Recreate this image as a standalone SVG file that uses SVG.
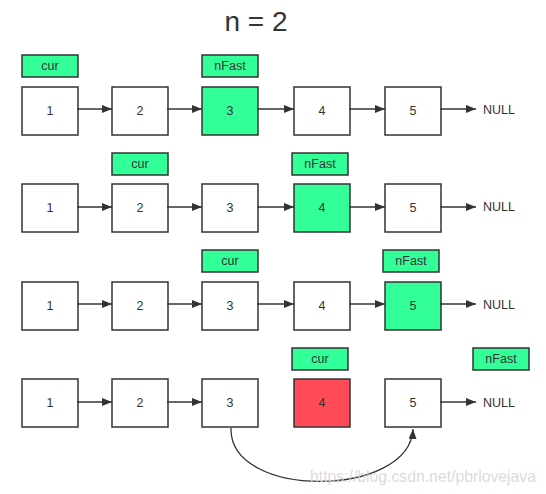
<svg xmlns="http://www.w3.org/2000/svg" width="546" height="494" viewBox="0 0 546 494">
<style>
.box{fill:#fff;stroke:#333;stroke-width:1.5}
.hl{fill:#33ff99}
.red{fill:#ff4b57}
.lab{fill:#33ff99;stroke:#333;stroke-width:1.5}
.t{font-family:"Liberation Sans",Arial,sans-serif;font-size:12.5px;fill:#333;text-anchor:middle;dominant-baseline:central}
.null{font-family:"Liberation Sans",Arial,sans-serif;font-size:12.5px;fill:#333;dominant-baseline:central}
.title{font-family:"Liberation Sans",Arial,sans-serif;font-size:28px;fill:#333;text-anchor:middle}
.ln{stroke:#333;stroke-width:1.3;fill:none}
.wm{font-family:"Liberation Sans",Arial,sans-serif;font-size:16.5px;fill:#d4d4d4;fill-opacity:0.85}
</style>
<defs>
<marker id="ah" viewBox="0 0 10 8" refX="10" refY="4" markerWidth="10" markerHeight="8" markerUnits="userSpaceOnUse" orient="auto">
<path d="M0,0 L10,4 L0,8 Z" fill="#333"/>
</marker>
</defs>
<rect width="546" height="494" fill="#fff"/>
<text class="title" x="256" y="31">n = 2</text>

<!-- Row 1 -->
<g id="r1">
<g id="r1-cur"><rect class="lab" x="22" y="55" width="56" height="22"/><text class="t" x="50" y="66">cur</text></g>
<g id="r1-nfast"><rect class="lab" x="202" y="55" width="56" height="22"/><text class="t" x="230" y="66">nFast</text></g>
<g id="r1-n1"><rect class="box" x="22" y="87" width="56" height="48"/><text class="t" x="50" y="111">1</text></g>
<g id="r1-n2"><rect class="box" x="112" y="87" width="56" height="48"/><text class="t" x="140" y="111">2</text></g>
<g id="r1-n3"><rect class="box hl" x="202" y="87" width="56" height="48"/><text class="t" x="230" y="111">3</text></g>
<g id="r1-n4"><rect class="box" x="294" y="87" width="56" height="48"/><text class="t" x="322" y="111">4</text></g>
<g id="r1-n5"><rect class="box" x="385" y="87" width="56" height="48"/><text class="t" x="413" y="111">5</text></g>
<text class="null" x="483" y="110">NULL</text>
</g>

<!-- Row 2 -->
<g id="r2">
<g id="r2-cur"><rect class="lab" x="112" y="153" width="56" height="22"/><text class="t" x="140" y="164">cur</text></g>
<g id="r2-nfast"><rect class="lab" x="292" y="153" width="56" height="22"/><text class="t" x="320" y="164">nFast</text></g>
<g id="r2-n1"><rect class="box" x="22" y="184" width="56" height="48"/><text class="t" x="50" y="208">1</text></g>
<g id="r2-n2"><rect class="box" x="112" y="184" width="56" height="48"/><text class="t" x="140" y="208">2</text></g>
<g id="r2-n3"><rect class="box" x="202" y="184" width="56" height="48"/><text class="t" x="230" y="208">3</text></g>
<g id="r2-n4"><rect class="box hl" x="294" y="184" width="56" height="48"/><text class="t" x="322" y="208">4</text></g>
<g id="r2-n5"><rect class="box" x="385" y="184" width="56" height="48"/><text class="t" x="413" y="208">5</text></g>
<text class="null" x="483" y="207">NULL</text>
</g>

<!-- Row 3 -->
<g id="r3">
<g id="r3-cur"><rect class="lab" x="202" y="250" width="56" height="22"/><text class="t" x="230" y="261">cur</text></g>
<g id="r3-nfast"><rect class="lab" x="383" y="250" width="56" height="22"/><text class="t" x="411" y="261">nFast</text></g>
<g id="r3-n1"><rect class="box" x="22" y="282" width="56" height="48"/><text class="t" x="50" y="306">1</text></g>
<g id="r3-n2"><rect class="box" x="112" y="282" width="56" height="48"/><text class="t" x="140" y="306">2</text></g>
<g id="r3-n3"><rect class="box" x="202" y="282" width="56" height="48"/><text class="t" x="230" y="306">3</text></g>
<g id="r3-n4"><rect class="box" x="294" y="282" width="56" height="48"/><text class="t" x="322" y="306">4</text></g>
<g id="r3-n5"><rect class="box hl" x="385" y="282" width="56" height="48"/><text class="t" x="413" y="306">5</text></g>
<text class="null" x="483" y="305">NULL</text>
</g>

<!-- Row 4 -->
<g id="r4">
<g id="r4-cur"><rect class="lab" x="292" y="348" width="56" height="22"/><text class="t" x="320" y="359">cur</text></g>
<g id="r4-nfast"><rect class="lab" x="473" y="348" width="56" height="22"/><text class="t" x="501" y="359">nFast</text></g>
<g id="r4-n1"><rect class="box" x="22" y="379" width="56" height="48"/><text class="t" x="50" y="403">1</text></g>
<g id="r4-n2"><rect class="box" x="112" y="379" width="56" height="48"/><text class="t" x="140" y="403">2</text></g>
<g id="r4-n3"><rect class="box" x="202" y="379" width="56" height="48"/><text class="t" x="230" y="403">3</text></g>
<g id="r4-n4"><rect class="box red" x="294" y="379" width="56" height="48"/><text class="t" x="322" y="403">4</text></g>
<g id="r4-n5"><rect class="box" x="385" y="379" width="56" height="48"/><text class="t" x="413" y="403">5</text></g>
<text class="null" x="483" y="403">NULL</text>
</g>

<g id="connectors">
<!-- row 1 -->
<line class="ln" x1="77" y1="109" x2="112" y2="109" marker-end="url(#ah)"/>
<line class="ln" x1="167" y1="109" x2="202" y2="109" marker-end="url(#ah)"/>
<line class="ln" x1="257" y1="109" x2="294" y2="109" marker-end="url(#ah)"/>
<line class="ln" x1="349" y1="109" x2="385" y2="109" marker-end="url(#ah)"/>
<line class="ln" x1="440" y1="109" x2="476" y2="109" marker-end="url(#ah)"/>
<!-- row 2 -->
<line class="ln" x1="77" y1="207" x2="112" y2="207" marker-end="url(#ah)"/>
<line class="ln" x1="167" y1="207" x2="202" y2="207" marker-end="url(#ah)"/>
<line class="ln" x1="257" y1="207" x2="294" y2="207" marker-end="url(#ah)"/>
<line class="ln" x1="349" y1="207" x2="385" y2="207" marker-end="url(#ah)"/>
<line class="ln" x1="440" y1="207" x2="476" y2="207" marker-end="url(#ah)"/>
<!-- row 3 -->
<line class="ln" x1="77" y1="304" x2="112" y2="304" marker-end="url(#ah)"/>
<line class="ln" x1="167" y1="304" x2="202" y2="304" marker-end="url(#ah)"/>
<line class="ln" x1="257" y1="304" x2="294" y2="304" marker-end="url(#ah)"/>
<line class="ln" x1="349" y1="304" x2="385" y2="304" marker-end="url(#ah)"/>
<line class="ln" x1="440" y1="304" x2="476" y2="304" marker-end="url(#ah)"/>
<!-- row 4 -->
<line class="ln" x1="77" y1="402" x2="112" y2="402" marker-end="url(#ah)"/>
<line class="ln" x1="167" y1="402" x2="202" y2="402" marker-end="url(#ah)"/>
<line class="ln" x1="440" y1="402" x2="476" y2="402" marker-end="url(#ah)"/>
<path class="ln" d="M231,428 C229,500 410,498 413,429" marker-end="url(#ah)"/>
</g>

<text class="wm" x="310" y="482" textLength="226" lengthAdjust="spacingAndGlyphs">https://blog.csdn.net/pbrlovejava</text>
</svg>
